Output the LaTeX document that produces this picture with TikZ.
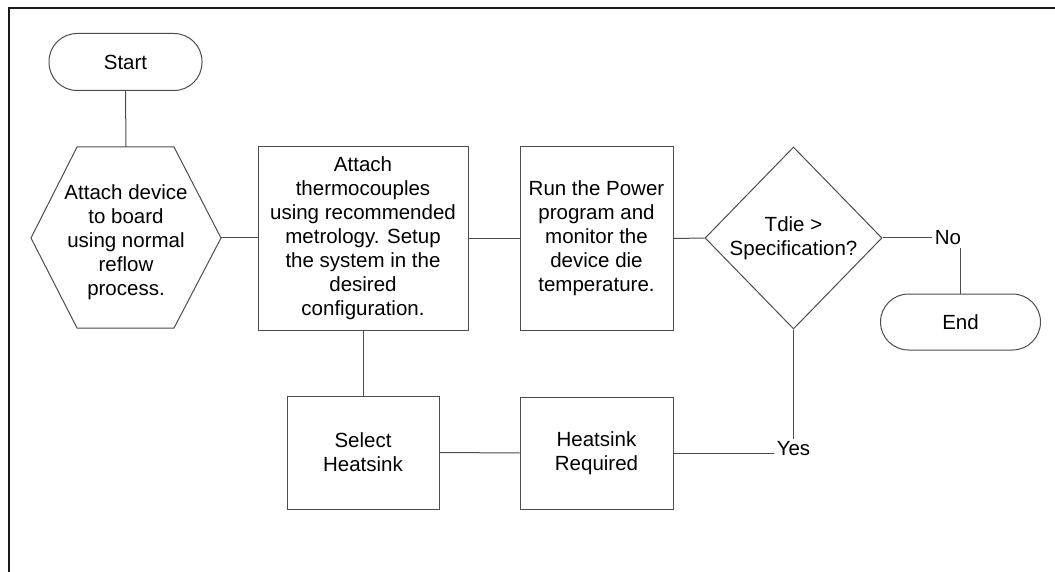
\documentclass[tikz,border=0pt]{standalone}
\usepackage{fontspec}
\setmainfont{Liberation Sans}
\usetikzlibrary{shapes.geometric}
\tikzset{
  ln/.style={draw=black!70, line width=1pt},
  txt/.style={font=\fontsize{20.5}{24}\selectfont, align=center, inner sep=0pt, text=black},
  term/.style={txt, ln, rounded corners=28pt, minimum height=57pt},
  procbox/.style={txt, ln, rectangle},
  decision/.style={txt, ln, diamond, minimum width=177pt, minimum height=182pt},
  lbl/.style={font=\fontsize{20.5}{24}\selectfont, inner xsep=2.5pt, inner ysep=3pt, text=black}
}
\begin{document}
\begin{tikzpicture}[x=1pt,y=-1pt]
\useasboundingbox (0,0) rectangle (1055,572);
% frame
\draw[line width=2pt, black!90] (9,572) -- (9,8) -- (1055,8);

% start
\node[term, minimum width=153pt] (start) at (125.5,62) {Start};

% hexagon
\coordinate (hexW) at (31,238);
\coordinate (hexNW) at (77,147);
\coordinate (hexN) at (126,147);
\coordinate (hexNE) at (174,147);
\coordinate (hexE) at (221,238);
\coordinate (hexSE) at (174,328);
\coordinate (hexSW) at (77,328);
\draw[ln] (hexW) -- (hexNW) -- (hexNE) -- (hexE) -- (hexSE) -- (hexSW) -- cycle;
\node[txt] (hex) at (126,242) {Attach device\\to board\\using normal\\reflow\\process.};

% boxes
\node[procbox, minimum width=210pt, minimum height=183pt] (b1) at (363,238.5)
  {Attach\\thermocouples\\using recommended\\metrology. Setup\\the system in the\\desired\\configuration.};
\node[procbox, minimum width=153pt, minimum height=183pt] (b2) at (596.5,238.5)
  {Run the Power\\program and\\monitor the\\device die\\temperature.};
\node[decision] (dia) at (793.5,238) {Tdie \textgreater\\Specification?};
\node[lbl] (no) at (948,238) {No};
\node[term, minimum width=160pt, minimum height=56pt] (end) at (960.5,322) {End};

\node[procbox, minimum width=152pt, minimum height=113pt] (b3) at (363,452.5) {Select\\Heatsink};
\node[procbox, minimum width=153pt, minimum height=112pt] (b4) at (596.5,453) {Heatsink\\Required};
\node[lbl] (yes) at (793.5,449) {Yes};

% connectors
\draw[ln] (start.south) -- (hexN);
\draw[ln] (hexE) -- (b1.west |- hexE);
\draw[ln] (b1.east) -- (b2.west);
\draw[ln] (b2.east) -- (dia.west);
\draw[ln] (dia.east) -- (no.west);
\draw[ln] (no.south -| end.north) -- (end.north);
\draw[ln] (b1.south) -- (b3.north);
\draw[ln] (b3.east) -- (b4.west);
\draw[ln] (b4.east) -- (yes.west |- b4.east);
\draw[ln] (dia.south) -- (yes.north);
\end{tikzpicture}
\end{document}
